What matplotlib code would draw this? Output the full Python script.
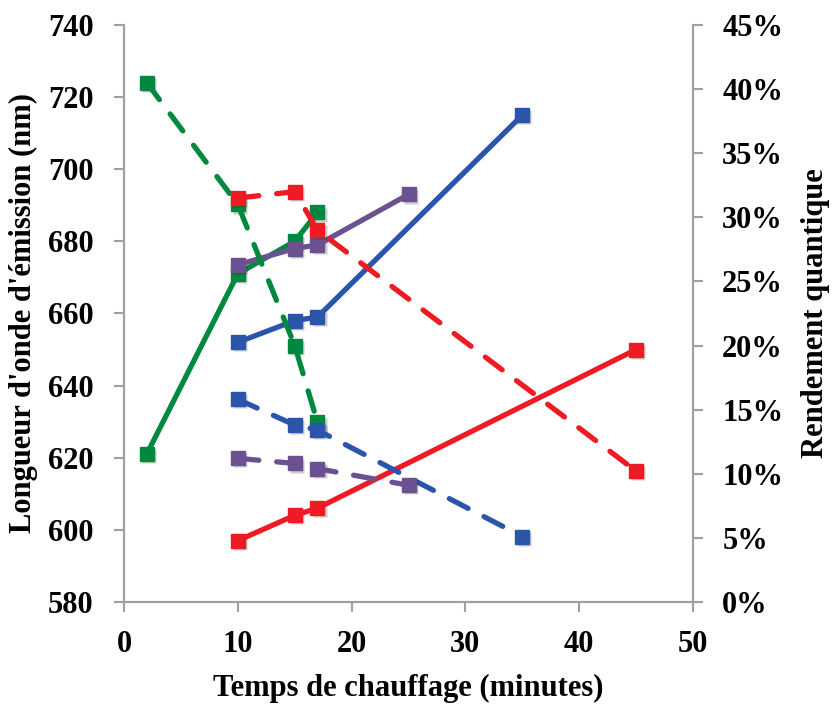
import matplotlib.pyplot as plt
from matplotlib.transforms import offset_copy
from matplotlib.ticker import FuncFormatter

# temps de chauffage (minutes)
t_green = [2, 10, 15, 17]
t_purple = [10, 15, 17, 25]
t_blue = [10, 15, 17, 35]
t_red = [10, 15, 17, 45]

# longueur d'onde d'emission (nm)
wl_green = [621, 671, 680, 688]
wl_purple = [673.5, 678, 679, 693]
wl_blue = [652, 658, 659, 715]
wl_red = [597, 604, 606, 650]

# rendement quantique (%)
qy_green = [40.5, 31, 20, 14]
qy_purple = [11.2, 10.8, 10.4, 9.1]
qy_blue = [15.8, 13.8, 13.4, 5.1]
qy_red = [31.5, 32, 29, 10.2]

green = '#00893e'
purple = '#6c5192'
blue = '#2b55ab'
red = '#ed1c24'

plt.rcParams['font.family'] = 'Liberation Serif'
plt.rcParams['font.weight'] = 'bold'

fig = plt.figure(figsize=(8.35, 7.04), dpi=100)
ax = fig.add_axes([0.1485, 0.145, 0.6815, 0.8195])
ax2 = ax.twinx()


def serie(a, t, y, c, ls):
    # petite ombre sous les marqueurs
    sh = offset_copy(a.transData, fig=fig, x=1.5, y=-1.5, units='points')
    a.plot(t, y, ls='none', marker='s', ms=10, color='#000000', alpha=0.2,
           mec='none', transform=sh)
    a.plot(t, y, color=c, lw=3.8, ls=ls, marker='s', ms=10,
           solid_capstyle='round', dash_capstyle='round')


for t, y, c in [(t_green, wl_green, green), (t_purple, wl_purple, purple),
                (t_blue, wl_blue, blue), (t_red, wl_red, red)]:
    serie(ax, t, y, c, '-')

for t, y, c in [(t_green, qy_green, green), (t_red, qy_red, red),
                (t_blue, qy_blue, blue), (t_purple, qy_purple, purple)]:
    serie(ax2, t, y, c, (0, (4, 3.4)))

ax.set_xlim(0, 50)
ax.set_ylim(580, 740)
ax2.set_ylim(0, 45)
ax.set_xticks(range(0, 51, 10))
ax.set_yticks(range(580, 741, 20))
ax2.set_yticks(range(0, 46, 5))
ax2.yaxis.set_major_formatter(FuncFormatter(lambda v, p: '%d%%' % v))

for a in (ax, ax2):
    for s in a.spines.values():
        s.set_color('#a0a0a0')
        s.set_linewidth(1.5)
    a.spines['top'].set_visible(False)
    a.tick_params(colors='#a0a0a0', width=1.5, length=7, labelsize=22,
                  labelcolor='black')
ax.tick_params(axis='y', pad=15)
ax2.tick_params(axis='y', pad=14)
ax.tick_params(axis='x', pad=13)

ax.set_xlabel('Temps de chauffage (minutes)', fontsize=22, fontweight='bold', labelpad=11)
ax.set_ylabel("Longueur d'onde d'émission (nm)", fontsize=22, fontweight='bold', labelpad=7)
ax2.set_ylabel('Rendement quantique', fontsize=22, fontweight='bold', labelpad=13)

fig.savefig('out.png', dpi=100)
